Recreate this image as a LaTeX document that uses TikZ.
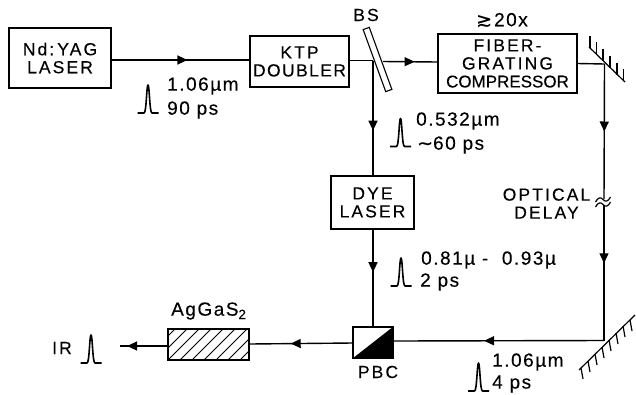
\documentclass[tikz,border=0pt]{standalone}
\usepackage{fontspec}
\setmainfont[FakeBold=0.25]{Liberation Sans}
\newfontfamily\symfont[FakeBold=0.25]{DejaVu Sans}
\newfontfamily\widefont[LetterSpace=12,FakeBold=0.25]{Liberation Sans}
\newfontfamily\midfont[LetterSpace=8,FakeBold=0.25]{Liberation Sans}
\usetikzlibrary{decorations.markings,arrows.meta}
\newcommand{\boxfont}{\widefont\fontsize{17.5}{18}\selectfont}
\newcommand{\labfont}{\midfont\fontsize{19}{20}\selectfont}
\tikzset{
  x=1pt,y=-1pt,
  box/.style={draw,line width=1.1pt,inner sep=0pt,align=center,fill=white,font=\boxfont},
  lbl/.style={inner sep=0pt,anchor=west,align=left,font=\labfont},
  ctr/.style={inner sep=0pt,align=center,font=\boxfont},
  beam/.style={line width=1.4pt},
  mirror/.style={line width=1.2pt},
  arrowat/.style={postaction={decorate},decoration={markings,mark=at position #1 with {\arrow{Triangle[length=10pt,width=9pt]}}}},
  pulse/.pic={\draw[line width=1.6pt,line join=round] (-10.5,0) -- (-4,0) .. controls (-1.5,0) and (-1.5,-28) .. (0,-28) .. controls (1.5,-28) and (1.5,0) .. (4,0) -- (10.5,0);}
}
\begin{document}
\begin{tikzpicture}
\useasboundingbox (0,0) rectangle (636,394);
% free points
\coordinate (bsl) at (373,60.5);
\coordinate (bsr) at (383,61.5);
\coordinate (mt) at (604.5,64);
\coordinate (mb) at (604,340.5);
\coordinate (ir) at (120,346);
\coordinate (sqtop) at (604,199);
\coordinate (sqbot) at (604,205);
% boxes
\node[box,minimum width=102pt,minimum height=60pt] (yag) at (60,58) {Nd:\kern3pt YAG\\LASER};
\node[box,minimum width=99pt,minimum height=51pt] (ktp) at (299.5,61.5) {KTP\\{\midfont\fontsize{17.5}{18}\selectfont DOUBLER}};
\node[box,minimum width=139pt,minimum height=59pt] (comp) at (507.5,63.5) {FIBER-\\GRATING\\{\rmfamily\fontsize{17}{18}\selectfont COMPRESSOR}};
\node[box,minimum width=83pt,minimum height=53pt] (dye) at (372.5,202.5) {DYE\\LASER};
\node[box,minimum width=40pt,minimum height=31pt] (pbc) at (373,342.5) {};
\node[box,minimum width=81pt,minimum height=31pt] (crystal) at (208.5,344.5) {};
% beams
\draw[beam,arrowat=0.55] ([yshift=-2pt]yag.east) -- ([yshift=1.5pt]ktp.west);
\draw[beam] ([yshift=1pt]ktp.east) -- (bsl);
\draw[beam,arrowat=0.58] (bsr) -- ([yshift=1.5pt]comp.west);
\draw[beam] (comp.east) -- (mt);
\draw[beam,arrowat=0.61] (bsl) -- (dye.north -| bsl);
\draw[beam,arrowat=0.44] (dye.south -| bsl) -- (pbc.north -| bsl);
\draw[beam,arrowat=0.50] (mt) -- (sqtop);
\draw[beam,arrowat=0.43] (sqbot) -- (mb);
\draw[beam,arrowat=0.57] (mb) -- ([yshift=1.5pt]pbc.east);
\draw[beam,arrowat=0.60] ([yshift=-0.5pt]pbc.west) -- ([yshift=0.5pt]crystal.east);
\draw[beam,arrowat=0.85] ([yshift=-1.5pt]crystal.west) -- (ir);
% beam splitter
\node[draw,line width=1.1pt,inner sep=0pt,minimum width=66pt,minimum height=6.5pt,rotate=-70] (bs) at (377.5,59.5) {};
% delay squiggle
\draw[mirror] (595.5,202) .. controls (598,197) and (601,197) .. (603,199.5) .. controls (605,202) and (608,202) .. (610.5,197);
\draw[mirror] (595.5,207) .. controls (598,202) and (601,202) .. (603,204.5) .. controls (605,207) and (608,207) .. (610.5,202);
% crystal hatching
\begin{scope}
\clip (crystal.south west) rectangle (crystal.north east);
\foreach \d in {-24,-12,...,84}
  \draw[line width=1pt] (168+\d,360) -- ++(32,-32);
\end{scope}
% PBC
\fill (pbc.south west) -- (pbc.north east) -- (pbc.south east) -- cycle;
% mirrors
\draw[mirror] (589,47) -- (625,82);
\foreach \x/\y in {590/48,596.5/54,603/61,610/68,617/75,623.5/81}
  \draw[mirror] (\x,\y) -- ++(0,-12);
\draw[mirror] (579,370) -- (635,315);
\foreach \x/\y in {581/368,588/361,595/354,602/347,609/340,616/333,623/326,630/320}
  \draw[mirror] (\x,\y) -- ++(2,11);
% pulses
\pic at (148,113) {pulse};
\pic at (400.5,146.5) {pulse};
\pic at (401,286) {pulse};
\pic at (478.5,391) {pulse};
\pic at (91,363) {pulse};
% labels
\node[lbl] (l1) at (167,86) {1.06µm};
\node[lbl] (l2) at (167,110) {90 ps};
\node[ctr] (bslab) at (366,15) {BS};
\node[lbl] (gain) at (476,20) {{\symfont ≳}\kern2pt 20x};
\node[lbl] (l3) at (416,121) {0.532µm};
\node[lbl] (l4) at (417,145) {{\symfont ∼}60 ps};
\node[ctr] (delay) at (546.5,203.5) {OPTICAL\\DELAY};
\node[lbl] (l5) at (421,260) {0.81µ\ - \ 0.93µ};
\node[lbl] (l6) at (420,282) {2 ps};
\node[ctr] (pbclab) at (378,372) {PBC};
\node[lbl] (l7) at (492,362) {1.06µm};
\node[lbl] (l8) at (492,384) {4 ps};
\node[ctr] (irlab) at (62,348) {IR};
\node[lbl] (aggas) at (171,311) {AgGaS\textsubscript{2}};
\end{tikzpicture}
\end{document}
